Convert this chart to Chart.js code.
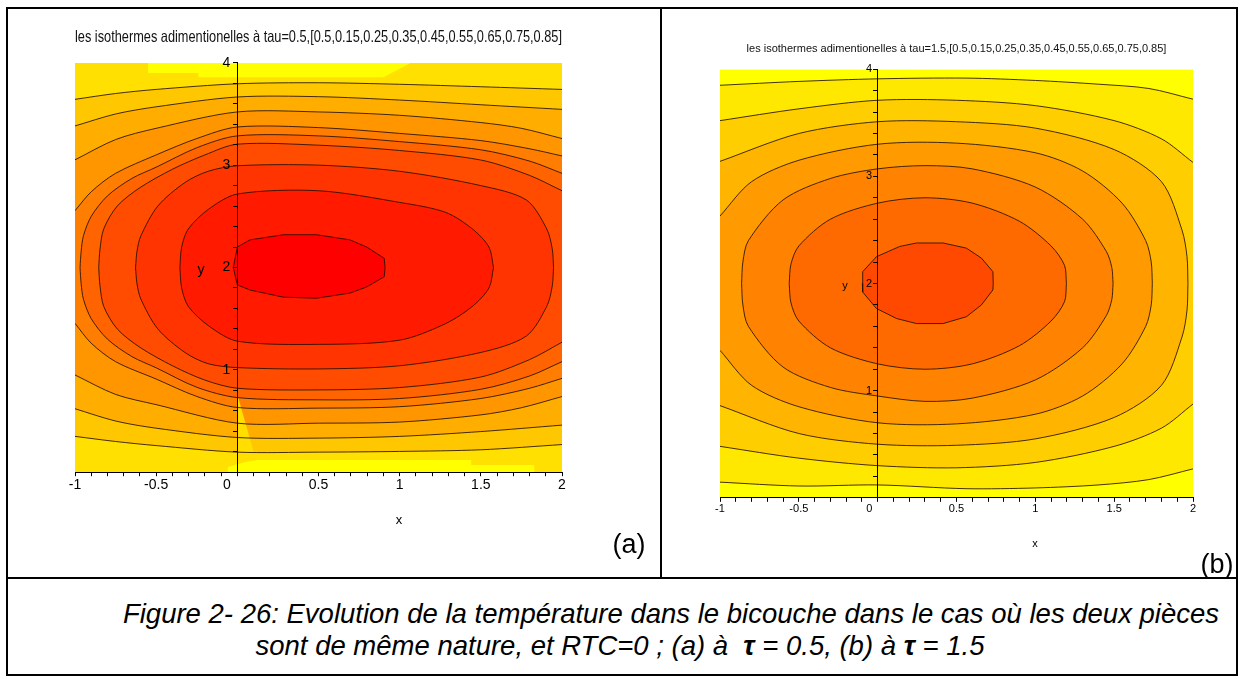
<!DOCTYPE html>
<html><head><meta charset="utf-8">
<script src="https://cdn.jsdelivr.net/npm/chart.js@4.4.0/dist/chart.umd.min.js"></script>
<style>
html,body{margin:0;padding:0;background:#fff;width:1242px;height:679px;overflow:hidden;font-family:"Liberation Sans",Arial,sans-serif;}
.ln{position:absolute;background:#000;}
canvas{position:absolute;}
.t{position:absolute;white-space:nowrap;transform:translate(-50%,-50%);color:#000;line-height:1;font-family:"Liberation Sans",Arial,sans-serif;}
.cap{position:absolute;transform:translate(-50%,-50%);font-style:italic;font-size:27.5px;white-space:nowrap;line-height:1;color:#000;font-family:"Liberation Sans",Arial,sans-serif;}
</style></head><body>
<div class="ln" style="left:6px;top:7px;width:1232px;height:2px"></div>
<div class="ln" style="left:6px;top:674px;width:1232px;height:2px"></div>
<div class="ln" style="left:6px;top:7px;width:2px;height:669px"></div>
<div class="ln" style="left:1236px;top:7px;width:2px;height:669px"></div>
<div class="ln" style="left:660px;top:7px;width:2px;height:572px"></div>
<div class="ln" style="left:6px;top:577px;width:1232px;height:2px"></div>
<canvas id="ca" width="652" height="568" style="left:8px;top:9px"></canvas>
<canvas id="cb" width="574" height="568" style="left:662px;top:9px"></canvas>
<div class="t" style="left:201px;top:269px;font-size:14px">y</div>
<div class="t" style="left:399px;top:519px;font-size:13px">x</div>
<div class="t" style="left:629px;top:544px;font-size:27px">(a)</div>
<div class="t" style="left:845px;top:285px;font-size:11px">y</div>
<div class="t" style="left:1035px;top:543px;font-size:11px">x</div>
<div class="t" style="left:1217px;top:564px;font-size:27px">(b)</div>
<div class="cap" style="left:671px;top:614px">Figure 2- 26: Evolution de la température dans le bicouche dans le cas où les deux pièces</div>
<div class="cap" style="left:620px;top:646px">sont de même nature, et RTC=0 ; (a) à&nbsp; <b>τ</b> = 0.5, (b) à <b>τ</b> = 1.5</div>
<script>
// ---------- data ----------
const TITLE_A = "les isothermes adimentionelles à tau=0.5,[0.5,0.15,0.25,0.35,0.45,0.55,0.65,0.75,0.85]";
const TITLE_B = "les isothermes adimentionelles à tau=1.5,[0.5,0.15,0.25,0.35,0.45,0.55,0.65,0.75,0.85]";
const X_TICK_LABELS = ["-1","-0.5","0","0.5","1","1.5","2"];
const Y_TICK_LABELS = ["1","2","3","4"];
const LEVELS_A = [0.05,0.15,0.25,0.35,0.45,0.55,0.65,0.75,0.85];
const LEVELS_B = [0.05,0.15,0.25,0.35,0.45,0.55,0.65];

// (a) tau = 0.5 : isotherm curves, [x, y]
const A05_UP = [[-1,3.643],[-0.75,3.70],[-0.5,3.74],[0,3.795],[0.5,3.805],[1,3.79],[1.5,3.766],[2,3.74]];
const A05_LO = [[-1,0.35],[-0.75,0.30],[-0.5,0.26],[0,0.196],[0.5,0.196],[1,0.203],[1.5,0.219],[2,0.27]];
const A15_UP = [[-1,3.383],[-0.75,3.50],[-0.5,3.57],[0,3.666],[0.5,3.669],[1,3.636],[1.5,3.59],[2,3.545]];
const A15_LO = [[-1,0.62],[-0.75,0.50],[-0.5,0.43],[0,0.339],[0.5,0.333],[1,0.35],[1.5,0.397],[2,0.46]];
const A25_UP = [[-1,3.052],[-0.75,3.25],[-0.5,3.36],[0,3.52],[0.5,3.52],[1,3.487],[1.5,3.416],[1.75,3.36],[2,3.26]];
const A25_LO = [[-1,0.95],[-0.75,0.76],[-0.5,0.66],[0,0.479],[0.5,0.479],[1,0.49],[1.5,0.56],[1.75,0.63],[2,0.739]];
const A35_UP = [[-1,2.555],[-0.9,2.74],[-0.75,2.92],[-0.5,3.10],[-0.25,3.26],[0,3.373],[0.5,3.367],[1,3.31],[1.5,3.24],[1.8,3.16],[2,3.09]];
const A35_LO = [[-1,1.454],[-0.9,1.26],[-0.75,1.08],[-0.5,0.91],[-0.25,0.74],[0,0.632],[0.5,0.626],[1,0.64],[1.5,0.72],[1.8,0.82],[2,0.917]];
const A45_UP = [[-0.969,2.0],[-0.962,2.16],[-0.948,2.31],[-0.9,2.5],[-0.8,2.70],[-0.65,2.87],[-0.5,2.98],[-0.25,3.17],[0,3.286],[0.5,3.286],[1,3.23],[1.5,3.15],[1.8,3.04],[2,2.92]];
const A45_LO = [[-0.969,2.0],[-0.962,1.84],[-0.948,1.69],[-0.9,1.50],[-0.8,1.30],[-0.65,1.13],[-0.5,1.02],[-0.25,0.83],[0,0.729],[0.5,0.707],[1,0.72],[1.5,0.81],[1.8,0.94],[2,1.08]];
const A55_UP = [[-0.854,2.0],[-0.846,2.18],[-0.823,2.377],[-0.74,2.60],[-0.6,2.78],[-0.4,2.96],[-0.2,3.10],[0,3.205],[0.5,3.195],[1,3.143],[1.5,3.05],[1.8,2.90],[2,2.75]];
const A55_LO = [[-0.854,2.0],[-0.846,1.82],[-0.823,1.62],[-0.74,1.40],[-0.6,1.22],[-0.4,1.04],[-0.2,0.90],[0,0.82],[0.5,0.804],[1,0.827],[1.5,0.93],[1.8,1.10],[2,1.27]];
const A65_UP = [[-0.627,2.0],[-0.618,2.16],[-0.594,2.31],[-0.49,2.6],[-0.323,2.83],[-0.18,2.94],[0,2.994],[0.5,3.0],[1,2.94],[1.5,2.80],[1.78,2.66],[1.906,2.377],[1.94,2.18],[1.948,2.0]];
const A65_LO = [[-0.627,2.0],[-0.618,1.84],[-0.594,1.69],[-0.49,1.40],[-0.323,1.17],[-0.18,1.06],[0,1.022],[0.5,1.009],[1,1.04],[1.5,1.17],[1.78,1.33],[1.906,1.62],[1.94,1.82],[1.948,2.0]];
const A75_UP = [[-0.354,2.0],[-0.343,2.2],[-0.302,2.377],[-0.177,2.57],[0,2.718],[0.5,2.75],[1.0,2.636],[1.281,2.54],[1.448,2.377],[1.55,2.2],[1.578,2.0]];
const A75_LO = [[-0.354,2.0],[-0.343,1.8],[-0.302,1.62],[-0.177,1.43],[0,1.28],[0.5,1.249],[1.0,1.29],[1.281,1.45],[1.448,1.62],[1.55,1.8],[1.578,2.0]];
const A85_UP = [[-0.025,2.0],[0,2.2],[0.078,2.27],[0.283,2.32],[0.489,2.32],[0.694,2.27],[0.797,2.2],[0.905,2.09],[0.91,2.0]];
const A85_LO = [[-0.025,2.0],[0,1.83],[0.078,1.78],[0.283,1.71],[0.489,1.70],[0.694,1.75],[0.797,1.81],[0.905,1.91],[0.91,2.0]];
// (a) rendering artefacts of the original (light patches)
const A_TOP_PATCH_UP = [[-0.55,4],[1.07,4]];
const A_TOP_PATCH_LO = [[-0.55,4],[-0.549,3.9],[-0.24,3.9],[-0.239,3.86],[0.9,3.86],[1.07,4]];
const A_BOT_PATCH_UP = [[-0.06,0.05],[0.05,0.10],[0.12,0.12],[1.44,0.12],[1.441,0.07],[1.83,0.07],[1.831,0]];
const A_BOT_PATCH_LO = [[-0.06,0],[1.831,0]];
const A_WEDGE_UP = [[0,0.76],[0.115,0.12]];
const A_WEDGE_LO = [[0,0.12],[0.115,0.12]];

// (b) tau = 1.5
const B05_UP = [[-1,3.85],[-0.5,3.886],[0,3.91],[0.56,3.917],[1,3.895],[1.4,3.86],[1.72,3.82],[2,3.72]];
const B05_LO = [[-1,0.146],[-0.5,0.11],[0,0.12],[0.56,0.085],[1,0.092],[1.4,0.12],[1.72,0.17],[2,0.27]];
const B15_UP = [[-1,3.52],[-0.5,3.63],[0,3.71],[0.5,3.71],[1,3.66],[1.5,3.52],[1.8,3.35],[2,3.13]];
const B15_LO = [[-1,0.48],[-0.5,0.37],[0,0.30],[0.5,0.28],[1,0.33],[1.5,0.48],[1.8,0.65],[2,0.875]];
const B25_UP = [[-1,3.14],[-0.5,3.40],[0,3.51],[0.5,3.51],[1,3.45],[1.5,3.25],[1.8,2.95],[1.93,2.5],[1.962,2.25],[1.968,2.0]];
const B25_LO = [[-1,0.86],[-0.5,0.60],[0,0.50],[0.5,0.49],[1,0.55],[1.5,0.75],[1.8,1.05],[1.93,1.5],[1.962,1.75],[1.968,2.0]];
const B35_UP = [[-1,2.63],[-0.8,2.95],[-0.5,3.15],[0,3.30],[0.5,3.31],[1,3.22],[1.3,3.05],[1.55,2.75],[1.7,2.4],[1.735,2.2],[1.742,2.0]];
const B35_LO = [[-1,1.376],[-0.8,1.05],[-0.5,0.85],[0,0.70],[0.5,0.69],[1,0.78],[1.3,0.95],[1.55,1.25],[1.7,1.6],[1.735,1.8],[1.742,2.0]];
const B45_UP = [[-0.863,2.0],[-0.855,2.2],[-0.82,2.4],[-0.6,2.78],[-0.3,2.98],[0,3.07],[0.3,3.10],[0.6,3.07],[1,2.9],[1.3,2.6],[1.45,2.3],[1.485,2.15],[1.493,2.0]];
const B45_LO = [[-0.863,2.0],[-0.855,1.8],[-0.82,1.6],[-0.6,1.22],[-0.3,1.03],[0,0.95],[0.3,0.90],[0.6,0.93],[1,1.1],[1.3,1.4],[1.45,1.7],[1.485,1.85],[1.493,2.0]];
const B55_UP = [[-0.561,2.0],[-0.55,2.18],[-0.5,2.35],[-0.3,2.6],[0,2.75],[0.3,2.8],[0.6,2.75],[0.9,2.58],[1.1,2.35],[1.185,2.17],[1.197,2.0]];
const B55_LO = [[-0.561,2.0],[-0.55,1.82],[-0.5,1.65],[-0.3,1.4],[0,1.25],[0.3,1.2],[0.6,1.25],[0.9,1.42],[1.1,1.65],[1.185,1.83],[1.197,2.0]];
const B65_UP = [[-0.097,2.0],[-0.095,2.11],[-0.008,2.25],[0.14,2.346],[0.246,2.378],[0.415,2.378],[0.563,2.33],[0.658,2.237],[0.731,2.11],[0.733,2.0]];
const B65_LO = [[-0.097,2.0],[-0.095,1.92],[-0.008,1.767],[0.12,1.673],[0.246,1.626],[0.415,1.626],[0.563,1.69],[0.658,1.80],[0.731,1.94],[0.733,2.0]];

// ---------- styles ----------
const BANDS_A = ["rgb(255,224,0)","rgb(255,199,0)","rgb(255,174,0)","rgb(255,150,0)","rgb(255,125,0)","rgb(255,100,0)","rgb(255,76,0)","rgb(255,52,0)","rgb(255,26,0)","rgb(255,0,0)"];
const BANDS_B = ["rgb(255,255,0)","rgb(255,232,0)","rgb(255,206,0)","rgb(255,181,0)","rgb(255,155,0)","rgb(255,130,0)","rgb(255,106,0)","rgb(255,72,0)"];
const LINE_COLOR = "rgba(35,15,0,0.85)";
const FONT = "'Liberation Sans',Arial,sans-serif";
const EN = "\u2002";

function pts(arr){ return arr.map(p => ({x:p[0], y:p[1]})); }

function contourSets(ups, los, bands){
  const ds = [];
  for (let k = ups.length - 1; k >= 0; k--) {
    const t = (k === ups.length - 1) ? 0 : 0.3;
    ds.push({label:'up'+k, data:pts(ups[k]), fill:'+1', backgroundColor:bands[k+1], borderColor:LINE_COLOR, borderWidth:1, tension:t, pointRadius:0});
    ds.push({label:'lo'+k, data:pts(los[k]), fill:false, borderColor:LINE_COLOR, borderWidth:1, tension:t, pointRadius:0});
  }
  return ds;
}
function patch(up, lo, color){
  return [
    {data:pts(up), fill:'+1', backgroundColor:color, borderColor:'rgba(0,0,0,0)', borderWidth:0, pointRadius:0, tension:0},
    {data:pts(lo), fill:false, borderColor:'rgba(0,0,0,0)', borderWidth:0, pointRadius:0, tension:0}
  ];
}
function background(color){
  return {data:pts([[-1,4],[2,4]]), fill:'start', backgroundColor:color, borderColor:'rgba(0,0,0,0)', borderWidth:0, pointRadius:0};
}

function makeChart(id, datasets, title, cfg){
  const tickFont = {family:FONT, size:cfg.tick};
  const grid = {display:true, drawOnChartArea:false, drawTicks:true, tickLength:4, color:'#000', lineWidth:1, z:1};
  return new Chart(document.getElementById(id), {
    type:'line',
    data:{datasets},
    options:{
      responsive:false, animation:false, devicePixelRatio:1,
      layout:{padding:{left:cfg.pl, right:cfg.pr, top:0, bottom:cfg.pb}},
      plugins:{
        legend:{display:false}, tooltip:{enabled:false},
        filler:{drawTime:'beforeDatasetsDraw', propagate:false},
        title:{display:true, text:title, color:'#111', font:{family:FONT, size:cfg.title, weight:'normal'}, padding:{top:cfg.tt, bottom:cfg.tb}}
      },
      scales:{
        x:{type:'linear', min:-1, max:2, position:'bottom', grid, border:{display:true, color:'#000', width:1, z:1},
           ticks:{z:1, stepSize:0.1, autoSkip:false, maxRotation:0, padding:1, color:'#000', font:tickFont,
             callback:(v)=>{ const s = String(Math.round(v*10)/10);
               if (!X_TICK_LABELS.includes(s)) return '';
               return s === '0' ? s + EN + EN + EN : s; }}},
        y:{type:'linear', min:0, max:4, position:{x:0}, grid, border:{display:true, color:'#000', width:1, z:1},
           ticks:{z:1, stepSize:0.2, autoSkip:false, padding:2, color:'#000', font:tickFont,
             callback:(v)=>{ const s = String(Math.round(v*10)/10); return Y_TICK_LABELS.includes(s) ? s + EN : ''; }}}
      }
    }
  });
}

const UPS_A = [A05_UP,A15_UP,A25_UP,A35_UP,A45_UP,A55_UP,A65_UP,A75_UP,A85_UP];
const LOS_A = [A05_LO,A15_LO,A25_LO,A35_LO,A45_LO,A55_LO,A65_LO,A75_LO,A85_LO];
const dsA = [].concat(
  patch(A_WEDGE_UP, A_WEDGE_LO, "rgb(255,222,0)"),
  contourSets(UPS_A, LOS_A, BANDS_A),
  patch(A_TOP_PATCH_UP, A_TOP_PATCH_LO, "rgb(255,255,0)"),
  patch(A_BOT_PATCH_UP, A_BOT_PATCH_LO, "rgb(255,255,0)"),
  [background(BANDS_A[0])]
);
const UPS_B = [B05_UP,B15_UP,B25_UP,B35_UP,B45_UP,B55_UP,B65_UP];
const LOS_B = [B05_LO,B15_LO,B25_LO,B35_LO,B45_LO,B55_LO,B65_LO];
const dsB = [].concat(contourSets(UPS_B, LOS_B, BANDS_B), [background(BANDS_B[0])]);

makeChart('ca', dsA, TITLE_A, {pl:67, pr:98, pb:82, title:16.5, tt:19, tb:15, tick:14});
makeChart('cb', dsB, TITLE_B, {pl:58, pr:43, pb:60, title:11, tt:33, tb:14, tick:11});
</script>
</body></html>
